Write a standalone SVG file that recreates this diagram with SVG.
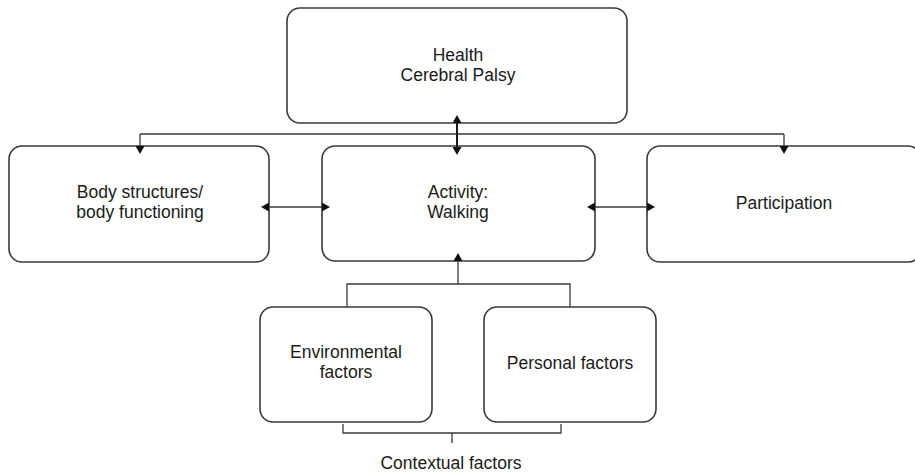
<svg xmlns="http://www.w3.org/2000/svg" width="915" height="473" viewBox="0 0 915 473">
<style>
.box{fill:#fff;stroke:#3a3a3a;stroke-width:1.6}
.lbl{font-family:"Liberation Sans",Arial,sans-serif;font-size:17.5px;fill:#1a1a1a;text-anchor:middle}
.con{fill:none;stroke:#3a3a3a;stroke-width:1.3}
.thick{stroke:#1a1a1a;stroke-width:2}
</style>
<defs>
<marker id="ah" viewBox="0 0 8 9" refX="0" refY="4.5" markerWidth="8" markerHeight="9" markerUnits="userSpaceOnUse" orient="auto-start-reverse">
<path d="M0,0 L8,4.5 L0,9 z" fill="#111"/>
</marker>
</defs>
<rect width="915" height="473" fill="#fff"/>
<g id="health">
<rect class="box" x="287" y="8" width="340" height="115" rx="13"/>
<text class="lbl" x="458" y="61">Health</text>
<text class="lbl" x="458" y="81">Cerebral Palsy</text>
</g>
<g id="body">
<rect class="box" x="9" y="146" width="260" height="116" rx="13"/>
<text class="lbl" x="140" y="198">Body structures/</text>
<text class="lbl" x="140" y="218">body functioning</text>
</g>
<g id="activity">
<rect class="box" x="322" y="146" width="273" height="115" rx="13"/>
<text class="lbl" x="458" y="198">Activity:</text>
<text class="lbl" x="458" y="218">Walking</text>
</g>
<g id="participation">
<rect class="box" x="647" y="146" width="274" height="116" rx="13"/>
<text class="lbl" x="784" y="209">Participation</text>
</g>
<g id="environmental">
<rect class="box" x="260" y="307" width="172" height="115" rx="13"/>
<text class="lbl" x="346" y="358">Environmental</text>
<text class="lbl" x="346" y="378">factors</text>
</g>
<g id="personal">
<rect class="box" x="484" y="307" width="172" height="115" rx="13"/>
<text class="lbl" x="570" y="369">Personal factors</text>
</g>
<g id="contextual">
<text class="lbl" x="451" y="469">Contextual factors</text>
</g>
<g id="connectors">
<path class="con" d="M140,134 H784"/>
<path class="con" d="M140,134 V146" marker-end="url(#ah)"/>
<path class="con" d="M784,134 V146" marker-end="url(#ah)"/>
<path class="con thick" d="M457,123 V147" marker-start="url(#ah)" marker-end="url(#ah)"/>
<path class="con" d="M269,207 H322" marker-start="url(#ah)" marker-end="url(#ah)"/>
<path class="con" d="M595,207 H647" marker-start="url(#ah)" marker-end="url(#ah)"/>
<path class="con" d="M347,307 V284 H570 V307"/>
<path class="con" d="M458,284 V261" marker-end="url(#ah)"/>
<path class="con" d="M343,424 V433 H561 V424 M452,433 V443"/>
</g>
</svg>
